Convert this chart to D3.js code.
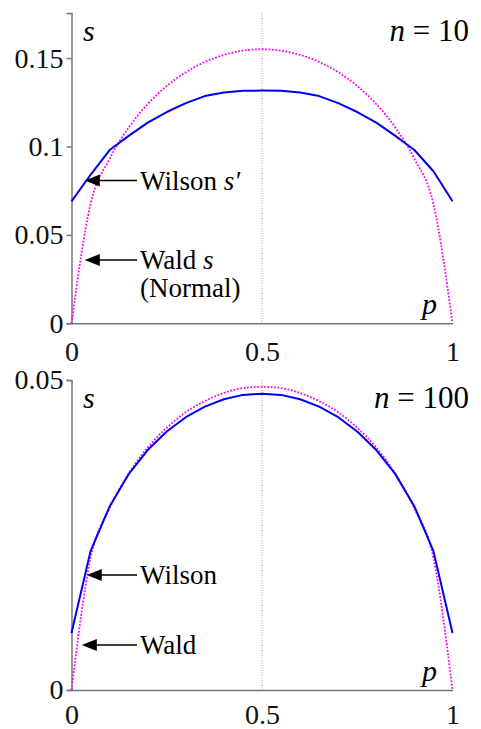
<!DOCTYPE html>
<html>
<head>
<meta charset="utf-8">
<script src="https://cdn.jsdelivr.net/npm/d3@7"></script>
</head>
<body style="margin:0">
<svg id="chart" width="481" height="729"></svg>
<script>
/* global d3 */

const pValues = [0, 0.05, 0.1, 0.15, 0.2, 0.25, 0.3, 0.35, 0.4, 0.45, 0.5,
  0.55, 0.6, 0.65, 0.7, 0.75, 0.8, 0.85, 0.9, 0.95, 1]

// n = 10
const waldN10 = [0, 0.0675, 0.093, 0.1107, 0.124, 0.1342, 0.142, 0.1478, 0.1518, 0.1542, 0.155,
  0.1542, 0.1518, 0.1478, 0.142, 0.1342, 0.124, 0.1107, 0.093, 0.0675, 0]
const wilsonN10 = [0.069, 0.084, 0.098, 0.106, 0.1135, 0.1195, 0.1245, 0.1285, 0.1305, 0.1315, 0.1316,
  0.1315, 0.1305, 0.1285, 0.1245, 0.1195, 0.1135, 0.106, 0.098, 0.086, 0.069]

// n = 100
const waldN100 = [0, 0.0213, 0.0293, 0.0349, 0.0391, 0.0423, 0.0448, 0.0466, 0.0479, 0.0487, 0.0489,
  0.0487, 0.0479, 0.0466, 0.0448, 0.0423, 0.0391, 0.0349, 0.0293, 0.0213, 0]
const wilsonN100 = [0.0092, 0.0224, 0.0296, 0.0348, 0.0387, 0.0417, 0.044, 0.0457, 0.0469, 0.0476, 0.0478,
  0.0476, 0.0469, 0.0457, 0.044, 0.0417, 0.0387, 0.0348, 0.0296, 0.0224, 0.0092]

const xTicks = [0, 0.5, 1]
const yTicksN10 = [0, 0.05, 0.1, 0.15]
const yTicksN100 = [0, 0.05]

const svg = d3.select('#chart')

function fmt (d) {
  return String(d)
}

function label (parent, x, y, size, txt) {
  return parent.append('text')
    .attr('font-family', 'Liberation Serif')
    .style('font-family', "'Liberation Serif'")
    .attr('x', x).attr('y', y)
    .attr('font-size', size)
    .text(txt)
}

function styleAxis (a) {
  a.attr('font-size', 28)
    .attr('font-family', 'Liberation Serif')
  a.selectAll('path, line')
    .attr('stroke', '#777')
    .attr('stroke-width', 1.5)
  a.selectAll('text')
    .attr('fill', '#111')
    .attr('font-family', 'Liberation Serif')
    .style('font-family', "'Liberation Serif'")
}

function renderPanel (opts) {
  const x = d3.scaleLinear().domain([0, 1]).range([71.5, 452.5])
  const y = d3.scaleLinear().domain([0, opts.yMax]).range([opts.bottom, opts.top])

  // dotted guide at p = 0.5
  svg.append('line')
    .attr('x1', x(0.5)).attr('x2', x(0.5))
    .attr('y1', opts.top).attr('y2', opts.bottom)
    .attr('stroke', '#888')
    .attr('stroke-width', 0.8)
    .attr('stroke-dasharray', '1,1.5')

  svg.append('g')
    .attr('transform', `translate(0,${opts.bottom})`)
    .call(d3.axisBottom(x).tickValues(xTicks).tickFormat(fmt).tickSize(0).tickSizeOuter(0).tickPadding(opts.xPad))
    .call(a => a.selectAll('.tick line').remove())
    .call(styleAxis)

  svg.append('g')
    .attr('transform', `translate(${x(0)},0)`)
    .call(d3.axisLeft(y).tickValues(opts.yTicks).tickFormat(fmt).tickSize(5).tickSizeOuter(5).tickPadding(3))
    .call(styleAxis)

  const line = d3.line()
    .x(d => x(d[0]))
    .y(d => y(d[1]))

  svg.append('path')
    .datum(d3.zip(pValues, opts.wald))
    .attr('fill', 'none')
    .attr('stroke', '#ff00ff')
    .attr('stroke-width', 1.8)
    .attr('stroke-dasharray', '1.8,1.6')
    .attr('d', line.curve(d3.curveMonotoneX))

  svg.append('path')
    .datum(d3.zip(pValues, opts.wilson))
    .attr('fill', 'none')
    .attr('stroke', '#0000f0')
    .attr('stroke-width', 2)
    .attr('stroke-linejoin', 'round')
    .attr('d', line.curve(d3.curveLinear))

  // axis letters
  label(svg, 83, opts.top + 28, 30, 's').attr('font-style', 'italic')
  label(svg, 437, opts.bottom - 9, 30, 'p').attr('font-style', 'italic').attr('text-anchor', 'end')

  const nLabel = label(svg, 469, opts.top + 28, 31, null).attr('text-anchor', 'end')
  nLabel.append('tspan').attr('font-style', 'italic').text('n')
  nLabel.append('tspan').text(` = ${opts.n}`)

  // arrows with labels
  opts.notes.forEach(note => {
    const tx = x(note.p)
    const ty = y(note.s)
    svg.append('line')
      .attr('x1', tx + 12).attr('x2', 137)
      .attr('y1', ty).attr('y2', ty)
      .attr('stroke', '#000')
      .attr('stroke-width', 1.5)
    svg.append('path')
      .attr('d', `M${tx},${ty}L${tx + 15},${ty - 6}L${tx + 15},${ty + 6}Z`)
      .attr('fill', '#000')
    const t = label(svg, 140, ty + 9, 27, null)
    t.append('tspan').text(note.label)
    if (note.italic) t.append('tspan').attr('font-style', 'italic').text(note.italic)
    if (note.second) label(svg, 140, ty + 37, 27, note.second)
  })
}

renderPanel({
  n: 10,
  top: 13,
  bottom: 323.3,
  yMax: 0.1755,
  yTicks: yTicksN10,
  xPad: 18,
  wald: waldN10,
  wilson: wilsonN10,
  notes: [
    { p: 0.035, s: 0.0807, label: 'Wilson ', italic: 's\u2032' },
    { p: 0.035, s: 0.0358, label: 'Wald ', italic: 's', second: '(Normal)' }
  ]
})

renderPanel({
  n: 100,
  top: 380,
  bottom: 690,
  yMax: 0.05,
  yTicks: yTicksN100,
  xPad: 14,
  wald: waldN100,
  wilson: wilsonN100,
  notes: [
    { p: 0.04, s: 0.01855, label: 'Wilson' },
    { p: 0.027, s: 0.00726, label: 'Wald' }
  ]
})
</script>
</body>
</html>
